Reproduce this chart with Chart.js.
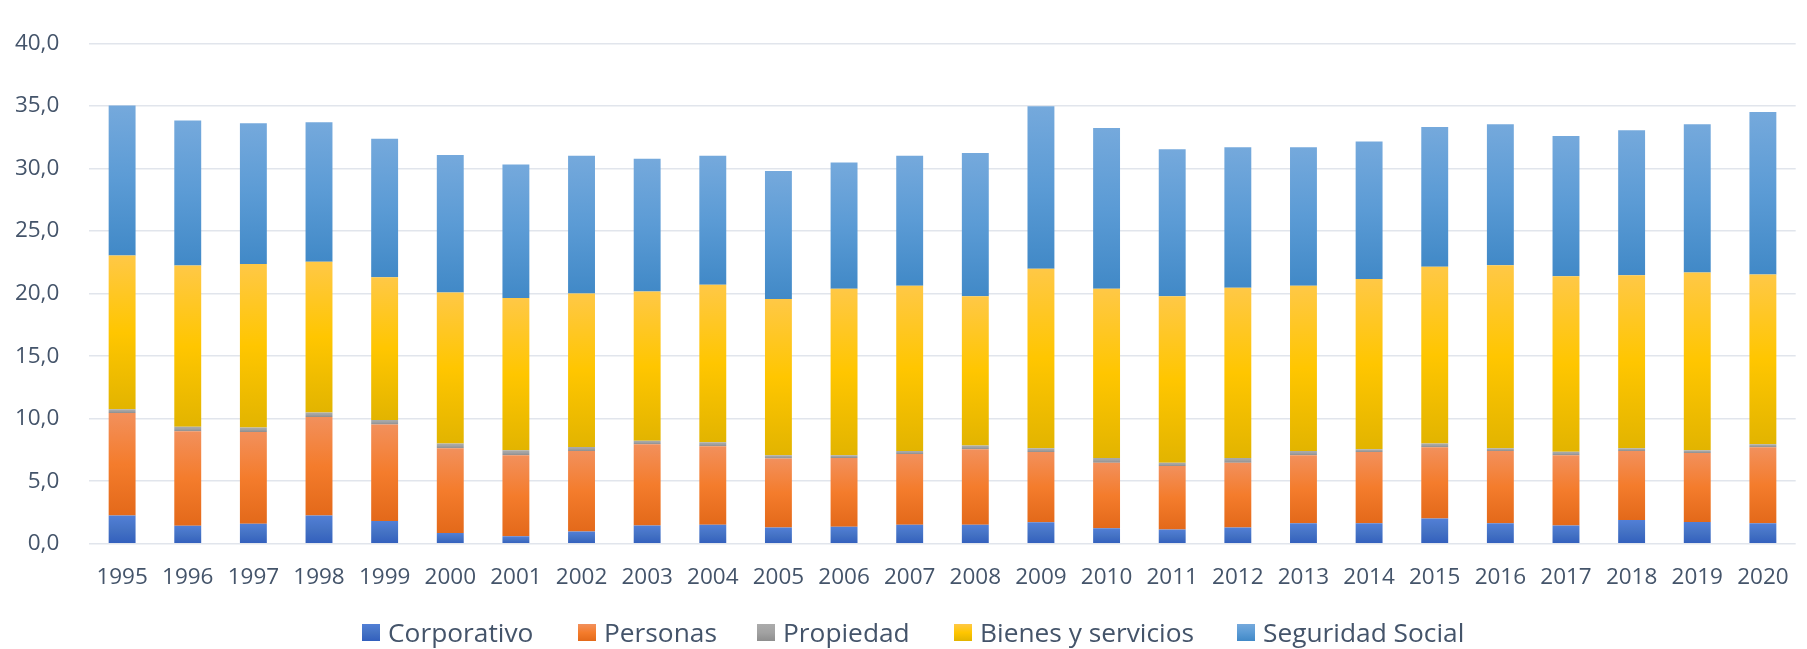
<!DOCTYPE html>
<html>
<head>
<meta charset="utf-8">
<script src="https://cdn.jsdelivr.net/npm/chart.js@4/dist/chart.umd.min.js"></script>
<style>
  html, body { margin: 0; padding: 0; background: #ffffff; }
  #wrap { position: relative; width: 1807px; height: 649px; overflow: hidden; }
  #c { position: absolute; left: 0; top: 0; }
  #legend { position: absolute; left: 0; top: 615px; width: 1807px; height: 34px;
            font-family: 'Open Sans', sans-serif; font-size: 26.3px; color: #44546a; white-space: nowrap; }
  .item { position: absolute; top: 0; height: 34px; display: flex; align-items: center; }
  .box { width: 18px; height: 17px; margin-right: 8px; }
</style>
</head>
<body>
<div id="wrap"><canvas id="c" width="1807" height="649"></canvas><div id="legend"></div></div>
<script>
const years = ['1995','1996','1997','1998','1999','2000','2001','2002','2003','2004','2005','2006','2007','2008','2009','2010','2011','2012','2013','2014','2015','2016','2017','2018','2019','2020'];
const corporativo = [2.25,1.43,1.60,2.25,1.82,0.86,0.59,0.97,1.46,1.52,1.30,1.35,1.52,1.52,1.71,1.24,1.13,1.30,1.63,1.63,2.01,1.63,1.46,1.90,1.74,1.63];
const personas = [8.20,7.56,7.34,7.89,7.72,6.77,6.49,6.44,6.50,6.27,5.51,5.51,5.65,6.03,5.62,5.24,5.08,5.18,5.45,5.70,5.70,5.78,5.62,5.51,5.51,6.08];
const propiedad = [0.30,0.36,0.36,0.36,0.36,0.38,0.39,0.33,0.27,0.33,0.27,0.22,0.24,0.30,0.30,0.38,0.27,0.38,0.33,0.22,0.30,0.22,0.27,0.22,0.22,0.25];
const bienes = [12.30,12.89,13.07,12.04,11.41,12.07,12.17,12.26,11.93,12.59,12.48,13.30,13.21,11.93,14.36,13.52,13.30,13.60,13.21,13.62,14.14,14.63,14.04,13.84,14.22,13.56];
const seguridad = [12.00,11.60,11.25,11.16,11.08,11.00,10.68,11.03,10.62,10.32,10.24,10.10,10.41,11.47,13.00,12.86,11.77,11.25,11.09,11.00,11.17,11.28,11.22,11.60,11.85,13.00];
const seriesNames = ['Corporativo','Personas','Propiedad','Bienes y servicios','Seguridad Social'];
const yMin = 0, yMax = 40, yStep = 5;

const TEXT = '#44546a';
const FONT = "'Open Sans', sans-serif";

function grad(stops) {
  return (ctx) => {
    if (ctx.type !== 'data') return stops[1];
    const chart = ctx.chart;
    if (!chart.chartArea) return stops[1];
    const ys = chart.scales.y;
    let base = 0;
    for (let i = 0; i < ctx.datasetIndex; i++) base += chart.data.datasets[i].data[ctx.dataIndex];
    const top = base + ctx.raw;
    const p0 = ys.getPixelForValue(top), p1 = ys.getPixelForValue(base);
    if (!isFinite(p0) || !isFinite(p1) || p0 === p1) return stops[1];
    const g = chart.ctx.createLinearGradient(0, p0, 0, p1);
    g.addColorStop(0, stops[0]);
    g.addColorStop(0.5, stops[1]);
    g.addColorStop(1, stops[2]);
    return g;
  };
}

const palettes = [
  ['#527fd6', '#4472c4', '#325fbd'],
  ['#f2905c', '#f47c2c', '#e3691a'],
  ['#ababab', '#a2a2a2', '#8e8e8e'],
  ['#ffc846', '#ffc600', '#e2b400'],
  ['#75a9dc', '#5b9bd5', '#4189c7']
];
const values = [corporativo, personas, propiedad, bienes, seguridad];

const datasets = values.map((v, i) => ({
  label: seriesNames[i],
  data: v,
  backgroundColor: grad(palettes[i]),
  borderWidth: 0,
  categoryPercentage: 1.0,
  barPercentage: 0.41
}));

const chart = new Chart(document.getElementById('c'), {
  type: 'bar',
  data: { labels: years, datasets },
  options: {
    responsive: false,
    animation: false,
    layout: { autoPadding: false, padding: { top: 20, right: 11.3, left: 12, bottom: 0 } },
    plugins: {
      tooltip: { enabled: false },
      legend: { display: false }
    },
    scales: {
      x: {
        stacked: true,
        grid: { display: false },
        border: { display: false },
        ticks: { color: TEXT, font: { family: FONT, size: 22.5 }, padding: 12, maxRotation: 0, autoSkip: false },
        afterFit: (s) => { s.height = 105.3; }
      },
      y: {
        stacked: true,
        min: yMin, max: yMax,
        border: { display: false },
        grid: { color: '#e1e5ec', lineWidth: 1.5, drawTicks: false },
        ticks: {
          stepSize: yStep,
          color: TEXT,
          font: { family: FONT, size: 22.5 },
          padding: 30,
          callback: (v) => v.toFixed(1).replace('.', ',')
        },
        afterFit: (s) => { s.width = 77.3; }
      }
    }
  }
});

// HTML legend built from the chart's datasets
const legendLeft = [362, 578, 757, 954, 1237];
const legendEl = document.getElementById('legend');
chart.data.datasets.forEach((ds, i) => {
  const item = document.createElement('div');
  item.className = 'item';
  item.style.left = legendLeft[i] + 'px';
  const box = document.createElement('span');
  box.className = 'box';
  const p = palettes[i];
  box.style.background = `linear-gradient(to bottom, ${p[0]}, ${p[1]} 50%, ${p[2]})`;
  const txt = document.createElement('span');
  txt.textContent = ds.label;
  item.appendChild(box);
  item.appendChild(txt);
  legendEl.appendChild(item);
});
</script>
</body>
</html>
